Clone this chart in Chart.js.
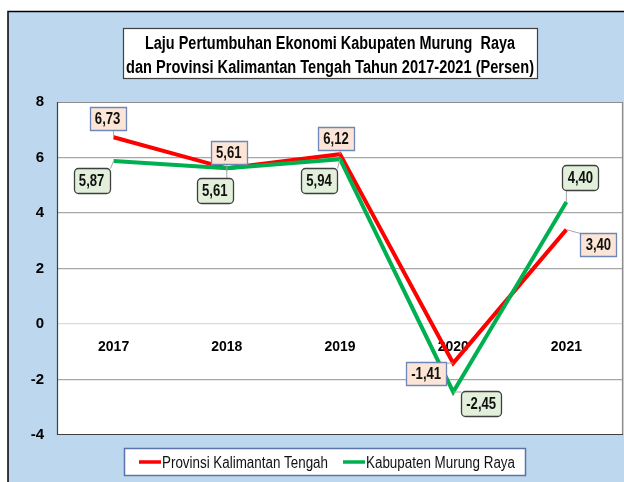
<!DOCTYPE html>
<html><head><meta charset="utf-8">
<script src="https://cdn.jsdelivr.net/npm/chart.js@4.4.1/dist/chart.umd.min.js"></script>
<style>html,body{margin:0;padding:0;background:#fff;overflow:hidden}canvas{display:block}</style>
</head><body>
<canvas id="c" width="624" height="482"></canvas>
<script>
// ---------- DATA ----------
const years = ['2017', '2018', '2019', '2020', '2021'];
const provinsiValues = [6.73, 5.61, 6.12, -1.41, 3.40];
const murungRayaValues = [5.87, 5.61, 5.94, -2.45, 4.40];
const seriesNames = ['Provinsi Kalimantan Tengah', 'Kabupaten Murung Raya'];
const yMin = -4, yMax = 8, yStep = 2;
const titleLines = ['Laju Pertumbuhan Ekonomi Kabupaten Murung  Raya',
                    'dan Provinsi Kalimantan Tengah Tahun 2017-2021 (Persen)'];

// ---------- STYLE / LABEL PLACEMENT (pixels, not data) ----------
const redLabelOffsets   = [[-6,-19],[2,-16],[-4,-16],[-27,10],[32,15]];
const greenLabelOffsets = [[-22,19],[-12,22],[-21,21],[28,12],[14,-24]];

const cnv = document.getElementById('c');
const mctx = cnv.getContext('2d');
function hasFont(name){
  mctx.font = '40px "' + name + '", monospace';
  const a = mctx.measureText('Provinsi Kalimantan 2017').width;
  mctx.font = '40px monospace';
  const b = mctx.measureText('Provinsi Kalimantan 2017').width;
  return Math.abs(a-b) > 1;
}
const NARROW = hasFont('Liberation Sans Narrow') ? '"Liberation Sans Narrow"' : null;
const NFAM = NARROW ? NARROW : '"Liberation Sans", Arial, sans-serif';
const NSCALE = NARROW ? 1 : 0.82;
const SANS = '"Liberation Sans", Arial, sans-serif';

function fmt(v){ return v.toFixed(2).replace('.', ','); }

function narrowText(ctx, text, x, y, font, align, targetW){
  ctx.save();
  ctx.font = font;
  const w = ctx.measureText(text).width;
  const s = targetW ? targetW / w : NSCALE;
  const ww = w * s;
  let lx = x;
  if (align === 'center') lx = x - ww/2;
  else if (align === 'right') lx = x - ww;
  ctx.translate(lx, y);
  ctx.scale(s, 1);
  ctx.textAlign = 'left';
  ctx.fillText(text, 0, 0);
  ctx.restore();
  return ww;
}

const framePlugin = {
  id: 'frame',
  beforeDraw(chart){
    const ctx = chart.ctx, ca = chart.chartArea;
    ctx.save();
    ctx.fillStyle = '#ffffff';
    ctx.fillRect(0,0,chart.width,chart.height);
    ctx.fillStyle = '#BDD7EE';
    ctx.fillRect(8,11.5,chart.width,chart.height);
    ctx.strokeStyle = '#000'; ctx.lineWidth = 1.5;
    ctx.beginPath(); ctx.moveTo(8, chart.height+5); ctx.lineTo(8, 11.5); ctx.lineTo(chart.width+5, 11.5); ctx.stroke();
    ctx.fillStyle = '#ffffff';
    ctx.fillRect(ca.left, ca.top, ca.right-ca.left, ca.bottom-ca.top);
    // title box
    ctx.fillStyle = '#fff'; ctx.strokeStyle = '#404040'; ctx.lineWidth = 1.2;
    ctx.fillRect(123.5, 28.5, 414, 50); ctx.strokeRect(123.5, 28.5, 414, 50);
    ctx.fillStyle = '#000';
    ctx.textBaseline = 'alphabetic';
    narrowText(ctx, titleLines[0], 330, 49, 'bold 18px ' + NFAM, 'center', 370);
    narrowText(ctx, titleLines[1], 330, 73, 'bold 18px ' + NFAM, 'center', 408);
    ctx.restore();
  },
  beforeDatasetsDraw(chart){
    const ctx = chart.ctx, ca = chart.chartArea;
    ctx.save();
    ctx.lineWidth = 1.2;
    ctx.strokeStyle = '#8C8C8C';
    ctx.beginPath(); ctx.moveTo(ca.left, ca.top+0.5); ctx.lineTo(ca.right-0.5, ca.top+0.5); ctx.lineTo(ca.right-0.5, ca.bottom); ctx.stroke();
    ctx.strokeStyle = '#404040';
    ctx.beginPath(); ctx.moveTo(ca.left+0.5, ca.top); ctx.lineTo(ca.left+0.5, ca.bottom-0.5); ctx.lineTo(ca.right, ca.bottom-0.5); ctx.stroke();
    ctx.restore();
  },
  afterDatasetsDraw(chart){
    const ctx = chart.ctx;
    const specs = [
      {ds:0, offs:redLabelOffsets, fill:'#FCE4D6', stroke:'#6F86B8', radius:0},
      {ds:1, offs:greenLabelOffsets, fill:'#E2EFDA', stroke:'#3F3F3F', radius:4}
    ];
    ctx.save();
    specs.forEach(sp => {
      const meta = chart.getDatasetMeta(sp.ds);
      const vals = chart.data.datasets[sp.ds].data;
      meta.data.forEach((pt, i) => {
        const txt = fmt(vals[i]);
        const font = 'bold 16px ' + NFAM;
        ctx.font = font;
        const tw = ctx.measureText(txt).width * NSCALE;
        const bw = Math.round(tw + 10), bh = sp.radius ? 25 : 23;
        const cx = pt.x + sp.offs[i][0], cy = pt.y + sp.offs[i][1];
        const bx = Math.round(cx - bw/2) + 0.5, by = Math.round(cy - bh/2) + 0.5;
        const ex = Math.max(bx, Math.min(pt.x, bx+bw));
        const ey = Math.max(by, Math.min(pt.y, by+bh));
        ctx.strokeStyle = '#A6A6A6'; ctx.lineWidth = 1;
        ctx.beginPath(); ctx.moveTo(pt.x, pt.y); ctx.lineTo(ex, ey); ctx.stroke();
        ctx.fillStyle = sp.fill; ctx.strokeStyle = sp.stroke; ctx.lineWidth = 1.3;
        ctx.beginPath();
        if (sp.radius) ctx.roundRect(bx, by, bw, bh, sp.radius); else ctx.rect(bx, by, bw, bh);
        ctx.fill(); ctx.stroke();
        ctx.fillStyle = '#111';
        ctx.textBaseline = 'middle';
        narrowText(ctx, txt, cx, by + bh/2 + 1, font, 'center');
      });
    });
    ctx.restore();
  },
  afterDraw(chart){
    const ctx = chart.ctx;
    ctx.save();
    ctx.fillStyle = '#fff'; ctx.strokeStyle = '#5B74A8'; ctx.lineWidth = 1.5;
    ctx.fillRect(124.5, 448.5, 401, 27); ctx.strokeRect(124.5, 448.5, 401, 27);
    const items = [
      {x1:139, x2:161, tx:162, tw:166},
      {x1:343, x2:365, tx:366, tw:149}
    ];
    items.forEach((it, k) => {
      const ds = chart.data.datasets[k];
      ctx.strokeStyle = ds.borderColor; ctx.lineWidth = 3.5;
      ctx.beginPath(); ctx.moveTo(it.x1, 462); ctx.lineTo(it.x2, 462); ctx.stroke();
      ctx.fillStyle = '#111'; ctx.textBaseline = 'alphabetic';
      narrowText(ctx, ds.label, it.tx, 468, '16px ' + NFAM, 'left', it.tw);
    });
    ctx.restore();
  }
};

new Chart(cnv, {
  type: 'line',
  data: {
    labels: years,
    datasets: [
      {label: seriesNames[0], data: provinsiValues, borderColor: '#FF0000', backgroundColor: '#FF0000',
       borderWidth: 4, pointRadius: 0, tension: 0, order: 1},
      {label: seriesNames[1], data: murungRayaValues, borderColor: '#00B050', backgroundColor: '#00B050',
       borderWidth: 4, pointRadius: 0, tension: 0, order: 0}
    ]
  },
  options: {
    responsive: false,
    animation: false,
    devicePixelRatio: 1,
    layout: {padding: {top: 102, bottom: 47, left: 0, right: 1}},
    plugins: {legend: {display: false}, title: {display: false}, tooltip: {enabled: false}},
    scales: {
      x: {
        type: 'category', axis: 'x', position: {y: 0}, offset: true,
        grid: {display: false, drawTicks: false}, border: {display: false},
        ticks: {color: '#000', font: {family: SANS, size: 14, weight: 'bold'}, padding: 15, maxRotation: 0}
      },
      y: {
        min: yMin, max: yMax,
        grid: {drawTicks: false, lineWidth: 1.2,
               color: c => c.tick && c.tick.value === 0 ? '#DADADA' : (c.tick && (c.tick.value === yMin || c.tick.value === yMax) ? 'rgba(0,0,0,0)' : '#A6A6A6')},
        border: {display: false},
        ticks: {stepSize: yStep, color: '#000', font: {family: SANS, size: 15, weight: 'bold'}, padding: 13},
        afterFit: s => { s.width = 57; }
      }
    }
  },
  plugins: [framePlugin]
});
</script>
</body></html>
